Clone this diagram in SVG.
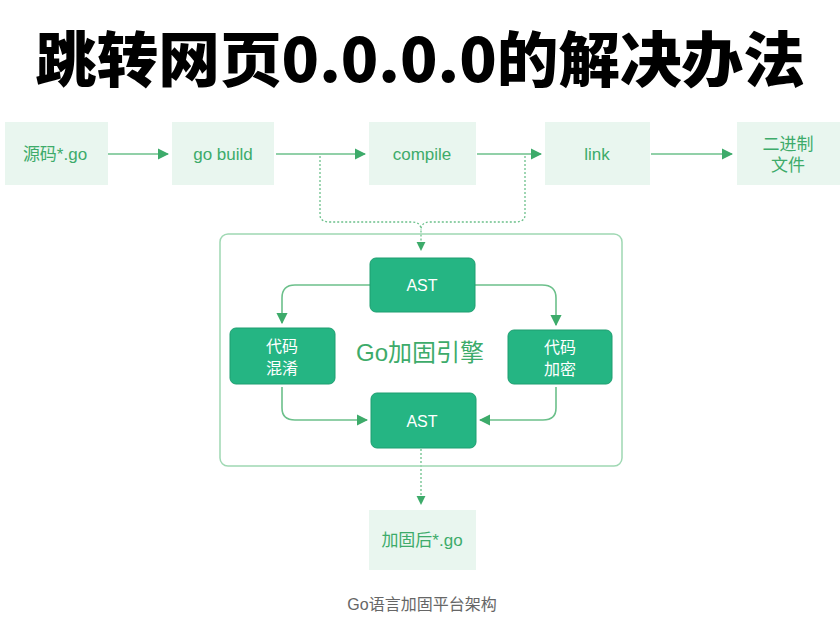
<svg xmlns="http://www.w3.org/2000/svg" width="840" height="630" viewBox="0 0 840 630">
<style>
.lb{fill:#e9f6ef}
.lt{font-family:"Liberation Sans","Noto Sans CJK SC",sans-serif;font-size:17px;fill:#3dab6a;text-anchor:middle}
.db{fill:#25b583;stroke:#1e9e70;stroke-width:1}
.dt{font-family:"Liberation Sans","Noto Sans CJK SC",sans-serif;font-size:16px;fill:#fff;text-anchor:middle}
.ln{fill:none;stroke:#6cc08b;stroke-width:1.6}
.dl{fill:none;stroke:#6cc08b;stroke-width:1.3;stroke-dasharray:2 2}
</style>
<defs><marker id="a" viewBox="0 0 10 10" refX="9" refY="5" markerWidth="7" markerHeight="7" orient="auto"><path d="M0,0L10,5L0,10z" fill="#3dab6a"/></marker></defs>
<rect width="840" height="630" fill="#fff"/>
<text x="420" y="82" font-family="'Noto Sans CJK SC',sans-serif" font-weight="900" font-size="60" text-anchor="middle" textLength="770" lengthAdjust="spacingAndGlyphs" fill="#000" stroke="#fff" stroke-width="2" paint-order="stroke">跳转网页0.0.0.0的解决办法</text>
<g id="connectors">
<path class="ln" d="M108,154H168" marker-end="url(#a)"/>
<path class="ln" d="M276,154H365" marker-end="url(#a)"/>
<path class="ln" d="M477,154H541" marker-end="url(#a)"/>
<path class="ln" d="M651,154H732" marker-end="url(#a)"/>
<path class="dl" d="M320,156V215Q320,222 330,222H412Q421,222 421,230M525,156V215Q525,222 515,222H430Q421,222 421,230V250" marker-end="url(#a)"/>
<path class="ln" d="M370,285H295Q282,285 282,298V323" marker-end="url(#a)"/>
<path class="ln" d="M475,285H542Q556,285 556,298V325" marker-end="url(#a)"/>
<path class="ln" d="M282,387V408Q282,420 295,420H367" marker-end="url(#a)"/>
<path class="ln" d="M556,387V408Q556,420 543,420H480" marker-end="url(#a)"/>
<path class="dl" d="M421,449V504" marker-end="url(#a)"/>
</g>
<g id="container"><rect x="220" y="234" width="402" height="232" rx="8" fill="none" stroke="#9fd8b3" stroke-width="1.5"/><text x="420" y="361" class="lt" style="font-size:24px">Go加固引擎</text></g>
<g id="src"><rect class="lb" x="5" y="122" width="103" height="63"/><text class="lt" x="55" y="160">源码*.go</text></g>
<g id="build"><rect class="lb" x="172" y="122" width="102" height="63"/><text class="lt" x="223" y="160">go build</text></g>
<g id="compile"><rect class="lb" x="369" y="122" width="107" height="63"/><text class="lt" x="422" y="160">compile</text></g>
<g id="link"><rect class="lb" x="545" y="122" width="105" height="63"/><text class="lt" x="597" y="160">link</text></g>
<g id="bin"><rect class="lb" x="737" y="122" width="103" height="63"/><text class="lt" x="788" y="150">二进制</text><text class="lt" x="788" y="171">文件</text></g>
<g id="ast1"><rect class="db" x="370" y="258" width="105" height="54" rx="6"/><text class="dt" x="422" y="291">AST</text></g>
<g id="obf"><rect class="db" x="230" y="328" width="105" height="56" rx="6"/><text class="dt" x="282" y="352">代码</text><text class="dt" x="282" y="374">混淆</text></g>
<g id="enc"><rect class="db" x="508" y="330" width="104" height="54" rx="6"/><text class="dt" x="560" y="353">代码</text><text class="dt" x="560" y="375">加密</text></g>
<g id="ast2"><rect class="db" x="371" y="393" width="105" height="55" rx="6"/><text class="dt" x="422" y="427">AST</text></g>
<g id="out"><rect class="lb" x="369" y="510" width="107" height="60"/><text class="lt" x="422" y="546">加固后*.go</text></g>
<text x="422" y="610" font-family="'Liberation Sans','Noto Sans CJK SC',sans-serif" font-size="16" fill="#666" text-anchor="middle">Go语言加固平台架构</text>
</svg>
